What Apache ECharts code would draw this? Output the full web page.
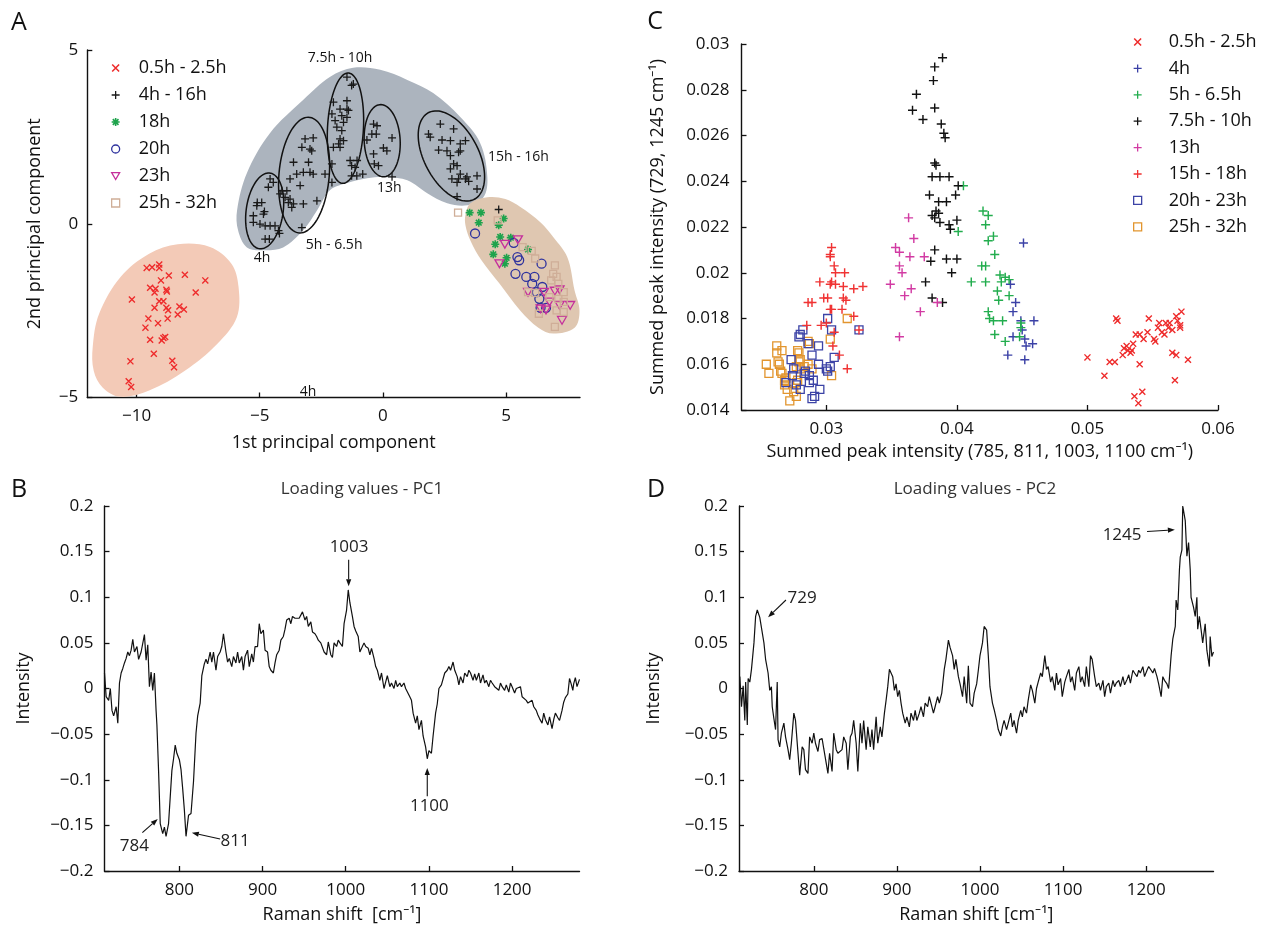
<!DOCTYPE html>
<html>
<head>
<meta charset="utf-8">
<title>PCA scores, summed peak intensities and loadings</title>
<script src="https://cdn.jsdelivr.net/npm/echarts@6/dist/echarts.min.js"></script>
<style>
html, body { margin: 0; padding: 0; background: #fff; }
#chart { width: 1261px; height: 930px; }
</style>
</head>
<body>
<div id="chart"></div>
<script>
// ---- panel A : PCA scores (1st vs 2nd principal component) ----
var pcaEarly = [[-9.59,-1.27],[-9.37,-1.25],[-9.08,-1.17],[-9.08,-1.27],[-8.69,-1.49],[-8.04,-1.47],[-7.21,-1.63],[-9.01,-1.63],[-9.45,-1.84],[-9.23,-1.87],[-9.27,-1.98],[-8.79,-1.9],[-8.77,-1.95],[-7.6,-1.98],[-10.19,-2.18],[-9.08,-2.23],[-8.91,-2.23],[-9.27,-2.42],[-8.79,-2.42],[-8.72,-2.49],[-8.26,-2.38],[-8.08,-2.47],[-8.33,-2.61],[-9.52,-2.73],[-9.13,-2.86],[-8.74,-2.73],[-9.64,-2.99],[-9.45,-3.34],[-8.91,-3.29],[-8.84,-3.26],[-8.98,-3.36],[-9.3,-3.74],[-10.25,-3.96],[-8.55,-3.94],[-8.48,-4.13],[-10.32,-4.53],[-10.22,-4.7]];
var pcaMid = [
  [-4.58,1.29],[-4.45,1.19],[-4.65,1.05],[-5.10,0.61],[-4.92,0.61],[-5.12,0.52],[-4.81,0.35],[-4.85,0.28],[-5.26,0.23],[-5.26,0.04],[-4.99,-0.01],[-4.78,-0.06],[-4.58,-0.06],[-4.38,-0.06],[-4.24,-0.2],[-4.78,-0.44],[-4.61,-0.44],[-4.20,-0.28],
  [-3.16,2.44],[-2.83,2.47],[-3.29,2.2],[-2.96,2.15],[-2.89,2.1],[-3.63,1.77],[-3.02,1.77],[-3.77,1.29],[-3.50,1.43],[-3.23,1.48],[-2.96,1.48],[-2.83,1.43],[-2.35,1.43],[-4.10,0.95],[-3.90,0.95],[-3.36,1.1],[-3.97,0.76],[-3.77,0.71],[-3.63,0.57],[-3.70,0.47],[-3.23,0.57],[-2.68,0.66],[-3.29,-0.11],[-2.07,1.19],[-4.17,0.86],[-3.84,0.61],
  [-1.46,4.22],[-1.20,4.02],[-1.27,3.98],[-2.01,3.5],[-1.46,3.54],[-1.74,3.3],[-1.46,3.3],[-1.40,3.26],[-2.07,3.16],[-1.67,3.11],[-1.46,3.06],[-1.94,2.97],[-1.60,2.92],[-1.87,2.78],[-1.67,2.68],[-1.74,2.44],[-1.60,2.39],[-1.80,2.3],[-2.01,2.2],[-1.74,2.2],[-1.33,1.82],[-1.05,1.82],[-1.27,1.67],[-1.13,1.62],[-1.27,1.38],[-1.06,1.38],[-0.82,1.43],[-2.07,1.72],
  [-0.38,2.87],[-0.24,2.82],[-0.45,2.58],[-0.27,2.58],[-0.65,2.41],[0.37,2.47],[0.02,2.18],[0.16,2.1],[-0.38,2.01],[-0.35,1.72],[-0.18,1.67],[0.37,1.35],
  [2.33,2.87],[2.87,2.73],[1.85,2.58],[1.92,2.49],[2.40,2.41],[2.74,2.39],[3.35,2.39],[3.14,2.3],[2.26,2.12],[2.60,2.1],[3.14,2.1],[3.07,2.06],[2.74,1.96],[2.87,1.72],[3.01,1.67],[2.74,1.58],[3.14,1.43],[3.41,1.35],[3.82,1.38],[3.07,1.29],[3.35,1.29],[3.48,1.22],[2.80,1.29],[3.01,1.19],[3.82,1.0],[3.01,0.78],
  [4.70,0.41]
];
var pca18 = [[3.52,0.32],[3.98,0.32],[4.90,0.15],[3.89,0.03],[4.70,-0.04],[4.76,-0.38],[5.19,-0.40],[4.56,-0.59],[5.89,-0.74],[4.48,-0.88],[5.02,-0.98],[4.95,-1.15]];
var pca20 = [[3.74,-0.28],[5.31,-0.55],[5.46,-0.96],[5.53,-1.05],[6.44,-1.15],[5.38,-1.44],[5.82,-1.53],[6.15,-1.53],[6.06,-1.73],[6.47,-1.82],[6.25,-1.97],[6.35,-2.16],[6.40,-2.42],[6.62,-2.42]];
var pca23 = [[5.48,-0.46],[4.95,-0.59],[4.73,-1.15],[5.89,-1.97],[6.54,-1.97],[6.98,-1.94],[7.17,-1.90],[6.40,-2.45],[6.62,-2.48],[6.76,-2.25],[7.17,-2.35],[7.60,-2.35],[7.27,-2.78]];
var pca25 = [[3.05,0.32],[4.66,0.10],[5.67,-0.67],[6.04,-0.78],[6.18,-1.0],[6.98,-1.2],[6.91,-1.44],[7.05,-1.53],[6.83,-1.63],[7.12,-1.73],[5.89,-1.97],[6.18,-1.99],[6.76,-2.11],[7.12,-2.16],[7.34,-1.97],[7.05,-2.49],[7.34,-2.54],[6.98,-2.97],[6.33,-2.59],[7.34,-2.25]];
var pcaXTicks = [-10, -5, 0, 5];

// shaded groups and cluster rings drawn behind / around the scores (data units)
var pcaRegions = [
  { color: '#f3cab7', outline: [[-11.78,-3.55],[-11.52,-2.59],[-10.65,-1.53],[-9.49,-0.86],[-8.33,-0.59],[-7.02,-0.67],[-6.15,-1.15],[-5.86,-1.82],[-5.93,-2.69],[-6.73,-3.46],[-8.04,-4.23],[-9.49,-4.8],[-10.65,-4.98],[-11.38,-4.71],[-11.74,-4.23]] },
  { color: '#acb4be', outline: [[-5.92,0.39],[-5.52,1.46],[-4.58,2.61],[-3.24,3.56],[-2.14,4.23],[-1.21,4.49],[-0.11,4.43],[0.99,4.14],[2.04,3.76],[3.14,3.07],[3.95,2.32],[4.24,1.34],[4.08,0.76],[3.43,0.53],[2.61,0.59],[1.80,0.88],[0.99,1.25],[0.17,1.34],[-0.64,1.31],[-1.45,1.17],[-2.14,0.97],[-2.67,0.39],[-3.24,-0.19],[-4.05,-0.68],[-4.87,-0.76],[-5.52,-0.68],[-5.88,-0.19]] },
  { color: '#dfc7b1', outline: [[3.35,0.25],[3.55,0.59],[4.24,0.76],[4.97,0.71],[5.58,0.48],[6.39,0.04],[6.92,-0.39],[7.49,-0.97],[7.78,-1.92],[7.98,-2.5],[7.78,-2.99],[6.92,-3.16],[6.31,-2.99],[5.58,-2.5],[4.73,-1.72],[4.0,-1.05],[3.55,-0.48],[3.35,-0.04]] }
];
var clusterRings = [
  { center: [-4.80, 0.37], rx: 0.75, ry: 1.10, tilt: 8 },
  { center: [-3.20, 1.40], rx: 1.02, ry: 1.67, tilt: 5 },
  { center: [-1.52, 2.75], rx: 0.73, ry: 1.59, tilt: 3 },
  { center: [-0.03, 2.39], rx: 0.73, ry: 1.04, tilt: -3 },
  { center: [2.78, 1.95], rx: 1.10, ry: 1.41, tilt: -28 }
];
var clusterNames = [
  { text: '7.5h - 10h', at: [-1.74, 4.77] },
  { text: '5h - 6.5h', at: [-1.98, -0.62] },
  { text: '4h', at: [-4.91, -1.0] },
  { text: '13h', at: [0.26, 1.02] },
  { text: '15h - 16h', at: [5.5, 1.92] },
  { text: '4h', at: [-3.04, -4.83] }
];

// ---- panel C : summed peak intensities ----
var peakEarly = [[0.0500,0.0163],[0.0513,0.0155],[0.0517,0.0161],[0.0521,0.0161],[0.0522,0.0180],[0.0523,0.0179],[0.0527,0.0164],[0.0528,0.0167],[0.0530,0.0168],[0.0531,0.0166],[0.0533,0.0165],[0.0534,0.0166],[0.0535,0.0169],[0.0537,0.0173],[0.0540,0.0173],[0.0540,0.0160],[0.0536,0.0146],[0.0539,0.0143],[0.0542,0.0148],[0.0543,0.0171],[0.0547,0.0180],[0.0546,0.0174],[0.0551,0.0171],[0.0552,0.0170],[0.0554,0.0176],[0.0555,0.0178],[0.0557,0.0174],[0.0559,0.0173],[0.0560,0.0178],[0.0562,0.0176],[0.0563,0.0178],[0.0565,0.0175],[0.0565,0.0165],[0.0567,0.0153],[0.0568,0.0164],[0.0569,0.0179],[0.0571,0.0177],[0.0571,0.0176],[0.0577,0.0162],[0.0572,0.0183],[0.0568,0.0181]];
var peak4 = [[0.0451,0.0213],[0.0441,0.0195],[0.0445,0.0187],[0.0443,0.0183],[0.0449,0.0179],[0.0450,0.0175],[0.0452,0.0171],[0.0453,0.0168],[0.0459,0.0179],[0.0458,0.0169],[0.0439,0.0164],[0.0452,0.0162],[0.0443,0.0172]];
var peak5 = [[0.0405,0.0238],[0.0420,0.0227],[0.0424,0.0225],[0.0422,0.0221],[0.0428,0.0216],[0.0401,0.0218],[0.0424,0.0214],[0.0429,0.0208],[0.0419,0.0203],[0.0422,0.0203],[0.0411,0.0196],[0.0422,0.0196],[0.0433,0.0199],[0.0437,0.0198],[0.0440,0.0197],[0.0434,0.0196],[0.0432,0.0188],[0.0431,0.0192],[0.0440,0.0190],[0.0424,0.0183],[0.0425,0.0180],[0.0428,0.0179],[0.0435,0.0179],[0.0429,0.0173],[0.0437,0.0170],[0.0449,0.0178],[0.0449,0.0176],[0.0448,0.0172]];
var peak7 = [[0.0389,0.0294],[0.0383,0.0290],[0.0382,0.0284],[0.0369,0.0278],[0.0383,0.0272],[0.0366,0.0271],[0.0374,0.0267],[0.0388,0.0265],[0.0390,0.0261],[0.0391,0.0259],[0.0383,0.0248],[0.0384,0.0247],[0.0381,0.0242],[0.0387,0.0242],[0.0394,0.0242],[0.0401,0.0238],[0.0379,0.0234],[0.0399,0.0234],[0.0386,0.0231],[0.0392,0.0231],[0.0384,0.0227],[0.0386,0.0226],[0.0381,0.0225],[0.0383,0.0224],[0.0387,0.0222],[0.0394,0.0221],[0.0395,0.0219],[0.0400,0.0223],[0.0383,0.0210],[0.0380,0.0205],[0.0392,0.0206],[0.0400,0.0206],[0.0396,0.0200],[0.0376,0.0196],[0.0381,0.0189],[0.0389,0.0187]];
var peak13 = [[0.0363,0.0224],[0.0367,0.0215],[0.0353,0.0211],[0.0356,0.0209],[0.0364,0.0207],[0.0375,0.0207],[0.0356,0.0203],[0.0358,0.0200],[0.0349,0.0195],[0.0365,0.0193],[0.0360,0.0190],[0.0372,0.0183],[0.0385,0.0187],[0.0356,0.0172]];
var peak15 = [[0.0304,0.0211],[0.0303,0.0208],[0.0303,0.0207],[0.0306,0.0203],[0.0307,0.0200],[0.0314,0.0200],[0.0295,0.0196],[0.0304,0.0196],[0.0303,0.0195],[0.0307,0.0195],[0.0313,0.0194],[0.0321,0.0193],[0.0328,0.0194],[0.0286,0.0187],[0.0289,0.0187],[0.0298,0.0189],[0.0301,0.0189],[0.0303,0.0184],[0.0304,0.0184],[0.0313,0.0189],[0.0315,0.0188],[0.0312,0.0184],[0.0321,0.0181],[0.0285,0.0177],[0.0296,0.0177],[0.0300,0.0178],[0.0306,0.0174],[0.0305,0.0168],[0.0310,0.0164],[0.0316,0.0158],[0.0325,0.0175]];
var peak20 = [[0.0282,0.0175],[0.0280,0.0173],[0.0279,0.0172],[0.0286,0.0169],[0.0294,0.0168],[0.0289,0.0164],[0.0301,0.0180],[0.0304,0.0175],[0.0306,0.0163],[0.0294,0.0160],[0.0300,0.0158],[0.0301,0.0157],[0.0303,0.0159],[0.0283,0.0156],[0.0284,0.0157],[0.0287,0.0155],[0.0290,0.0153],[0.0277,0.0151],[0.0280,0.0149],[0.0287,0.0152],[0.0295,0.0149],[0.0291,0.0146],[0.0289,0.0145],[0.0269,0.0152],[0.0274,0.0155],[0.0275,0.0158],[0.0273,0.0162],[0.0325,0.0175]];
var peak25 = [[0.0262,0.0168],[0.0266,0.0166],[0.0262,0.0165],[0.0254,0.0160],[0.0256,0.0156],[0.0263,0.0161],[0.0264,0.0160],[0.0265,0.0157],[0.0266,0.0156],[0.0268,0.0153],[0.0268,0.0151],[0.0270,0.0149],[0.0272,0.0144],[0.0277,0.0146],[0.0275,0.0148],[0.0277,0.0152],[0.0278,0.0153],[0.0278,0.0166],[0.0279,0.0165],[0.0280,0.0162],[0.0279,0.0161],[0.0277,0.0159],[0.0280,0.0158],[0.0283,0.0159],[0.0286,0.0160],[0.0287,0.0169],[0.0286,0.0170],[0.0289,0.0158],[0.0303,0.0171],[0.0316,0.0180],[0.0304,0.0155],[0.0269,0.0154]];
var peakXTicks = [0.03, 0.04, 0.05, 0.06];

// ---- panels B and D : loading spectra ----
var loadingPC1 = [[710,0.017],[712,-0.009],[715,-0.013],[717,0.0],[719,-0.024],[721,-0.03],[724,-0.02],[726,-0.038],[728,0.006],[730,0.017],[732,0.022],[734,0.028],[736,0.033],[738,0.040],[740,0.036],[742,0.042],[744,0.054],[746,0.040],[749,0.046],[751,0.032],[754,0.040],[756,0.040],[758,0.059],[760,0.031],[762,0.048],[764,0.002],[766,0.018],[768,-0.002],[770,0.017],[772,-0.024],[773,-0.04],[775,-0.09],[777,-0.148],[780,-0.159],[782,-0.152],[784,-0.162],[787,-0.148],[789,-0.119],[791,-0.09],[793,-0.077],[795,-0.062],[797,-0.071],[800,-0.078],[802,-0.089],[804,-0.11],[806,-0.133],[808,-0.162],[811,-0.139],[814,-0.137],[817,-0.102],[820,-0.049],[822,-0.03],[825,-0.016],[827,0.014],[830,0.027],[832,0.032],[834,0.027],[837,0.040],[839,0.029],[841,0.040],[844,0.020],[846,0.035],[849,0.040],[851,0.046],[853,0.060],[856,0.040],[858,0.029],[860,0.033],[863,0.024],[865,0.035],[868,0.028],[870,0.040],[872,0.028],[875,0.035],[877,0.020],[879,0.035],[882,0.042],[884,0.024],[887,0.038],[889,0.029],[891,0.046],[894,0.046],[896,0.071],[898,0.060],[901,0.064],[903,0.042],[906,0.040],[908,0.024],[910,0.020],[913,0.017],[915,0.028],[917,0.037],[920,0.042],[922,0.053],[925,0.057],[927,0.065],[929,0.075],[932,0.077],[934,0.071],[936,0.079],[939,0.077],[941,0.075],[944,0.077],[946,0.079],[948,0.084],[951,0.075],[953,0.079],[955,0.068],[958,0.073],[960,0.062],[963,0.06],[965,0.057],[967,0.053],[970,0.050],[972,0.051],[974,0.040],[977,0.037],[979,0.051],[982,0.037],[984,0.034],[986,0.05],[989,0.046],[991,0.053],[993,0.05],[996,0.046],[998,0.071],[1001,0.086],[1003,0.108],[1005,0.094],[1008,0.079],[1010,0.068],[1012,0.063],[1015,0.057],[1017,0.040],[1019,0.042],[1022,0.05],[1024,0.046],[1027,0.044],[1029,0.037],[1031,0.044],[1034,0.033],[1036,0.024],[1038,0.020],[1041,0.009],[1043,0.017],[1046,0.0],[1048,0.007],[1050,0.014],[1053,0.002],[1055,0.006],[1058,0.0],[1060,0.009],[1062,0.002],[1065,0.006],[1067,0.002],[1070,0.006],[1072,0.0],[1074,0.001],[1077,-0.009],[1079,-0.013],[1081,-0.027],[1084,-0.038],[1086,-0.03],[1088,-0.045],[1091,-0.035],[1093,-0.052],[1096,-0.064],[1098,-0.077],[1100,-0.068],[1103,-0.071],[1105,-0.052],[1108,-0.027],[1110,-0.017],[1112,0.0],[1115,0.004],[1117,0.006],[1119,0.017],[1122,0.020],[1124,0.024],[1126,0.020],[1129,0.029],[1131,0.020],[1134,0.013],[1136,0.004],[1138,0.013],[1141,0.006],[1143,0.017],[1146,0.013],[1148,0.02],[1150,0.017],[1153,0.009],[1155,0.016],[1157,0.009],[1160,0.017],[1162,0.006],[1165,0.015],[1167,0.006],[1169,0.009],[1172,0.002],[1174,0.009],[1176,0.006],[1179,0.002],[1181,0.004],[1184,-0.002],[1186,0.006],[1188,0.002],[1191,-0.002],[1193,0.004],[1196,-0.004],[1198,0.006],[1200,0.002],[1203,-0.005],[1205,0.0],[1207,-0.002],[1210,0.002],[1212,-0.009],[1214,-0.007],[1217,-0.013],[1219,-0.016],[1221,-0.018],[1224,-0.013],[1226,-0.02],[1229,-0.024],[1231,-0.029],[1233,-0.033],[1236,-0.038],[1238,-0.027],[1240,-0.034],[1243,-0.04],[1245,-0.031],[1248,-0.044],[1250,-0.034],[1252,-0.027],[1255,-0.032],[1257,-0.035],[1260,-0.024],[1262,-0.015],[1264,-0.01],[1267,-0.006],[1269,0.011],[1271,0.005],[1273,-0.002],[1274,0.005],[1276,0.012],[1278,0.002],[1281,0.01]];
var loadingPC2 = [[711,0.013],[713,-0.02],[715,0.003],[717,-0.035],[718,0.007],[720,-0.04],[721,0.011],[723,0.007],[725,0.021],[728,0.05],[730,0.079],[732,0.086],[735,0.078],[737,0.076],[740,0.05],[742,0.032],[745,0.017],[747,-0.002],[749,0.002],[750,-0.02],[752,-0.033],[754,-0.045],[756,0.007],[757,-0.056],[759,-0.064],[761,-0.049],[764,-0.038],[766,-0.053],[769,-0.067],[771,-0.078],[773,-0.06],[776,-0.027],[778,-0.035],[781,-0.071],[783,-0.095],[786,-0.064],[788,-0.067],[790,-0.089],[793,-0.093],[795,-0.053],[798,-0.06],[800,-0.049],[802,-0.06],[805,-0.069],[807,-0.056],[810,-0.055],[812,-0.066],[815,-0.082],[817,-0.093],[819,-0.071],[822,-0.091],[824,-0.049],[827,-0.067],[829,-0.071],[831,-0.073],[834,-0.067],[836,-0.053],[839,-0.06],[841,-0.089],[844,-0.053],[846,-0.049],[848,-0.035],[851,-0.06],[853,-0.091],[856,-0.038],[858,-0.06],[860,-0.035],[863,-0.067],[865,-0.042],[868,-0.064],[870,-0.045],[872,-0.067],[875,-0.031],[877,-0.06],[880,-0.042],[882,-0.053],[885,-0.027],[887,-0.013],[889,0.002],[891,0.021],[893,0.023],[895,0.013],[897,-0.002],[899,0.005],[901,-0.009],[903,-0.002],[905,-0.016],[907,-0.027],[910,-0.038],[912,-0.031],[915,-0.042],[917,-0.027],[920,-0.035],[922,-0.024],[924,-0.035],[927,-0.027],[929,-0.02],[932,-0.031],[934,-0.016],[937,-0.02],[939,-0.009],[941,-0.016],[944,-0.027],[946,-0.02],[949,-0.009],[951,-0.016],[954,-0.005],[957,0.021],[959,0.032],[962,0.053],[964,0.045],[967,0.036],[969,0.021],[971,0.032],[974,0.013],[976,0.005],[979,-0.009],[981,0.013],[984,-0.016],[986,0.025],[988,-0.016],[991,-0.02],[993,-0.005],[996,0.005],[998,0.02],[1000,0.036],[1003,0.05],[1005,0.068],[1008,0.064],[1010,0.036],[1012,0.002],[1015,-0.016],[1017,-0.023],[1020,-0.035],[1022,-0.045],[1025,-0.052],[1027,-0.042],[1029,-0.035],[1032,-0.045],[1034,-0.038],[1037,-0.027],[1039,-0.042],[1041,-0.035],[1044,-0.049],[1046,-0.035],[1049,-0.024],[1051,-0.031],[1053,-0.02],[1056,-0.027],[1058,-0.013],[1061,0.004],[1063,-0.002],[1066,-0.016],[1068,0.0],[1070,0.007],[1073,0.017],[1075,0.013],[1078,0.036],[1080,0.021],[1082,0.024],[1085,0.007],[1087,0.013],[1090,-0.002],[1092,0.017],[1094,0.004],[1097,0.011],[1099,-0.009],[1102,0.007],[1104,0.013],[1107,0.021],[1109,0.007],[1111,0.013],[1114,-0.002],[1116,0.017],[1119,0.024],[1121,0.007],[1123,0.013],[1126,0.002],[1128,0.024],[1131,0.002],[1133,0.036],[1135,0.032],[1138,0.013],[1140,0.002],[1143,0.006],[1145,-0.002],[1148,0.009],[1150,-0.009],[1152,0.002],[1155,0.006],[1157,-0.005],[1160,0.009],[1162,0.002],[1164,0.006],[1167,0.009],[1169,0.002],[1172,0.013],[1174,0.004],[1177,0.01],[1179,0.015],[1181,0.006],[1184,0.02],[1186,0.017],[1189,0.013],[1191,0.02],[1193,0.017],[1196,0.024],[1198,0.013],[1201,0.02],[1203,0.024],[1206,0.02],[1208,0.017],[1210,0.022],[1213,0.013],[1215,0.005],[1218,-0.009],[1220,0.013],[1222,0.009],[1225,0.005],[1227,0.0],[1230,0.036],[1232,0.054],[1235,0.068],[1236,0.097],[1238,0.086],[1240,0.13],[1241,0.144],[1243,0.152],[1244,0.2],[1247,0.184],[1249,0.145],[1251,0.16],[1253,0.13],[1254,0.1],[1257,0.089],[1259,0.079],[1261,0.1],[1262,0.065],[1264,0.079],[1266,0.065],[1268,0.05],[1271,0.071],[1273,0.042],[1276,0.024],[1277,0.057],[1279,0.035],[1281,0.04]];
var ramanTicks = [800, 900, 1000, 1100, 1200];

// peak call-outs (text position, arrow start, arrow tip) in data units
var pc1Notes = [
  { text: '1003', at: [1004, 0.155], from: [1003.5, 0.141], to: [1003.5, 0.112] },
  { text: '784', at: [746, -0.1726], from: [755.5, -0.158], to: [774, -0.143] },
  { text: '811', at: [867, -0.1677], from: [849, -0.165], to: [815, -0.158] },
  { text: '1100', at: [1100.5, -0.129], from: [1098, -0.118], to: [1098, -0.087] }
];
var pc2Notes = [
  { text: '729', at: [786, 0.099], from: [766.5, 0.097], to: [745, 0.078] },
  { text: '1245', at: [1171, 0.168], from: [1201, 0.172], to: [1234.5, 0.174] }
];

var FONT = '"Open Sans", "Noto Sans", sans-serif';
var INK = '#111';
// marker shapes
var PLUS = 'path://M4.2,0H5.8V4.2H10V5.8H5.8V10H4.2V5.8H0V4.2H4.2Z';
var CROSS = 'path://M2.03,0.89L9.11,7.97L7.97,9.11L0.89,2.03Z M7.97,0.89L9.11,2.03L2.03,9.11L0.89,7.97Z';
var STAR = 'path://M4,0H6V4H10V6H6V10H4V6H0V4H4Z M2.17,0.75L9.25,7.83L7.83,9.25L0.75,2.17Z M7.83,0.75L9.25,2.17L2.17,9.25L0.75,7.83Z';
var DOWN = 'path://M0,0L10,0L5,8.66Z';

function tickText(v) {
  return String(+(+v).toFixed(4)).replace('-', '\u2212');
}

function valueAxis(grid, min, max, opts) {
  var ax = {
    type: 'value', gridIndex: grid, min: min, max: max,
    axisLine: { show: true, onZero: false, lineStyle: { color: INK, width: 1.4 } },
    axisTick: { show: true, inside: true, length: 5, lineStyle: { color: INK, width: 1.3 } },
    splitLine: { show: false },
    axisLabel: { color: INK, fontSize: 17, fontFamily: FONT, margin: opts.margin, formatter: tickText },
    name: opts.name, nameLocation: 'middle', nameGap: opts.nameGap,
    nameTextStyle: { color: INK, fontSize: 18, fontFamily: FONT }
  };
  if (opts.interval) ax.interval = opts.interval;
  if (opts.ticks) {
    ax.axisLabel.customValues = opts.ticks;
    ax.axisTick.customValues = opts.ticks;
  }
  return ax;
}

function scatter(name, axis, data, shape) {
  return {
    name: name, type: 'scatter', xAxisIndex: axis, yAxisIndex: axis, data: data, z: 3,
    symbol: shape.symbol, symbolSize: shape.size,
    symbolKeepAspect: true, silent: true,
    itemStyle: shape.hollow
      ? { color: 'transparent', borderColor: shape.color, borderWidth: 1.3, opacity: 1 }
      : { color: shape.color, opacity: 1 }
  };
}

function ellipseItem(params, api) {
  var e = clusterRings[params.dataIndex];
  var c = api.coord(e.center);
  var s = api.size([e.rx, e.ry]);
  var phi = e.tilt * Math.PI / 180;
  var pts = [];
  for (var k = 0; k < 90; k++) {
    var t = k / 90 * Math.PI * 2;
    var u = s[0] * Math.cos(t), v = s[1] * Math.sin(t);
    pts.push([c[0] + u * Math.cos(phi) + v * Math.sin(phi), c[1] + u * Math.sin(phi) - v * Math.cos(phi)]);
  }
  return { type: 'polygon', shape: { points: pts }, style: { fill: 'none', stroke: INK, lineWidth: 1.5 } };
}

function noteRenderer(list) {
  return function (params, api) {
    var n = list[params.dataIndex];
    var p0 = api.coord(n.from), p1 = api.coord(n.to), pt = api.coord(n.at);
    var dx = p1[0] - p0[0], dy = p1[1] - p0[1];
    var len = Math.sqrt(dx * dx + dy * dy);
    var ux = dx / len, uy = dy / len, h = 7, w = 2.6;
    var bx = p1[0] - ux * h, by = p1[1] - uy * h;
    return {
      type: 'group',
      children: [
        { type: 'line', shape: { x1: p0[0], y1: p0[1], x2: bx, y2: by }, style: { stroke: INK, lineWidth: 1.1 } },
        { type: 'polygon', shape: { points: [[p1[0], p1[1]], [bx - uy * w, by + ux * w], [bx + uy * w, by - ux * w]] }, style: { fill: INK } },
        { type: 'text', x: pt[0], y: pt[1], style: { text: n.text, fill: '#222', font: '17px ' + FONT, align: 'center', verticalAlign: 'middle', textAlign: 'center', textVerticalAlign: 'middle' } }
      ]
    };
  };
}

function label(x, y, text, size, color) {
  return { type: 'text', x: x, y: y, style: { text: text, fill: color, font: size + 'px ' + FONT, align: 'center', verticalAlign: 'middle', textAlign: 'center', textVerticalAlign: 'middle' } };
}

var chart = echarts.init(document.getElementById('chart'), null, { renderer: 'canvas' });

var legendText = { color: INK, fontSize: 18, fontFamily: FONT, lineHeight: 20 };

chart.setOption({
  backgroundColor: '#fff',
  animation: false,
  grid: [
    { left: 87.3, top: 50, width: 492.7, height: 347.5, outerBoundsMode: 'none' },
    { left: 741.5, top: 44, width: 476.5, height: 366, outerBoundsMode: 'none' },
    { left: 104.5, top: 506, width: 475, height: 365, outerBoundsMode: 'none' },
    { left: 739, top: 506, width: 474.5, height: 365, outerBoundsMode: 'none' }
  ],
  xAxis: [
    valueAxis(0, -12, 8, { ticks: pcaXTicks, margin: 10, name: '1st principal component', nameGap: 36 }),
    valueAxis(1, 0.0235, 0.06, { ticks: peakXTicks, margin: 11, name: 'Summed peak intensity (785, 811, 1003, 1100 cm\u207B\u00B9)', nameGap: 33 }),
    valueAxis(2, 710, 1281, { ticks: ramanTicks, margin: 11, name: 'Raman shift  [cm\u207B\u00B9]', nameGap: 35 }),
    valueAxis(3, 710, 1281, { ticks: ramanTicks, margin: 11, name: 'Raman shift [cm\u207B\u00B9]', nameGap: 35 })
  ],
  yAxis: [
    valueAxis(0, -5, 5, { interval: 5, margin: 9, name: '2nd principal component', nameGap: 43 }),
    valueAxis(1, 0.014, 0.03, { interval: 0.002, margin: 12, name: 'Summed peak intensity (729, 1245 cm\u207B\u00B9)', nameGap: 75 }),
    valueAxis(2, -0.2, 0.2, { interval: 0.05, margin: 11, name: 'Intensity', nameGap: 72 }),
    valueAxis(3, -0.2, 0.2, { interval: 0.05, margin: 11, name: 'Intensity', nameGap: 76 })
  ],
  legend: [
    {
      data: ['0.5h - 2.5h', '4h - 16h', '18h', '20h', '23h', '25h - 32h'],
      orient: 'vertical', left: 106, top: 53, itemWidth: 8, itemHeight: 8, itemGap: 7,
      selectedMode: false, itemStyle: { borderWidth: 1.3 },
      textStyle: Object.assign({ padding: [0, 0, 0, 14] }, legendText)
    },
    {
      data: ['0.5h - 2.5h', '4h', '5h - 6.5h', '7.5h - 10h', '13h', '15h - 18h', '20h - 23h',
        { name: '25h - 32h', itemStyle: { color: 'transparent', borderColor: '#e2952e' } }],
      orient: 'vertical', left: 1128, top: 27, itemWidth: 8, itemHeight: 8, itemGap: 6.4,
      selectedMode: false, itemStyle: { borderWidth: 1.3 },
      textStyle: Object.assign({ padding: [0, 0, 0, 22] }, legendText)
    }
  ],
  graphic: [
    label(19, 23, 'A', 25, INK),
    label(655, 22, 'C', 25, INK),
    label(19, 490, 'B', 25, INK),
    label(656, 490, 'D', 25, INK),
    label(362, 489, 'Loading values - PC1', 17, '#333'),
    label(975, 489, 'Loading values - PC2', 17, '#333')
  ],
  series: [
    // panel A
    {
      type: 'custom', xAxisIndex: 0, yAxisIndex: 0, z: 1, silent: true, clip: false,
      data: pcaRegions.map(function (r, i) { return [i]; }),
      renderItem: function (params, api) {
        var r = pcaRegions[params.dataIndex];
        return {
          type: 'polygon',
          shape: { points: r.outline.map(function (p) { return api.coord(p); }), smooth: 0.35 },
          style: { fill: r.color }
        };
      }
    },
    {
      type: 'custom', xAxisIndex: 0, yAxisIndex: 0, z: 2, silent: true, clip: false,
      data: clusterRings.map(function (r, i) { return [i]; }),
      renderItem: ellipseItem
    },
    {
      type: 'custom', xAxisIndex: 0, yAxisIndex: 0, z: 4, silent: true, clip: false,
      data: clusterNames.map(function (r, i) { return [i]; }),
      renderItem: function (params, api) {
        var l = clusterNames[params.dataIndex];
        var c = api.coord(l.at);
        return label(c[0], c[1], l.text, 14, INK);
      }
    },
    scatter('0.5h - 2.5h', 0, pcaEarly, { symbol: CROSS, size: 7, color: '#ee2b2b' }),
    scatter('4h - 16h', 0, pcaMid, { symbol: PLUS, size: 8, color: '#1a1a1a' }),
    scatter('18h', 0, pca18, { symbol: STAR, size: 8, color: '#1ea34c' }),
    scatter('20h', 0, pca20, { symbol: 'circle', size: 9, color: '#2e329e', hollow: true }),
    scatter('23h', 0, pca23, { symbol: DOWN, size: 9, color: '#c52f9c', hollow: true }),
    scatter('25h - 32h', 0, pca25, { symbol: 'rect', size: 7, color: '#cfae98', hollow: true }),

    // panel C
    scatter('25h - 32h', 1, peak25, { symbol: 'rect', size: 8, color: '#e2952e', hollow: true }),
    scatter('20h - 23h', 1, peak20, { symbol: 'rect', size: 8, color: '#3c43a6', hollow: true }),
    scatter('0.5h - 2.5h', 1, peakEarly, { symbol: CROSS, size: 7, color: '#ee2b2b' }),
    scatter('4h', 1, peak4, { symbol: PLUS, size: 9, color: '#3b41a6' }),
    scatter('5h - 6.5h', 1, peak5, { symbol: PLUS, size: 9, color: '#22ad4e' }),
    scatter('7.5h - 10h', 1, peak7, { symbol: PLUS, size: 9, color: '#111' }),
    scatter('13h', 1, peak13, { symbol: PLUS, size: 9, color: '#d23ba3' }),
    scatter('15h - 18h', 1, peak15, { symbol: PLUS, size: 9, color: '#f03333' }),

    // panel B
    {
      name: 'PC1 loading', type: 'line', xAxisIndex: 2, yAxisIndex: 2, data: loadingPC1,
      showSymbol: false, silent: true, lineStyle: { color: INK, width: 1.2 }
    },
    {
      type: 'custom', xAxisIndex: 2, yAxisIndex: 2, z: 4, silent: true, clip: false,
      data: pc1Notes.map(function (n, i) { return [i]; }),
      renderItem: noteRenderer(pc1Notes)
    },
    // panel D
    {
      name: 'PC2 loading', type: 'line', xAxisIndex: 3, yAxisIndex: 3, data: loadingPC2,
      showSymbol: false, silent: true, lineStyle: { color: INK, width: 1.2 }
    },
    {
      type: 'custom', xAxisIndex: 3, yAxisIndex: 3, z: 4, silent: true, clip: false,
      data: pc2Notes.map(function (n, i) { return [i]; }),
      renderItem: noteRenderer(pc2Notes)
    }
  ]
});
</script>
</body>
</html>
